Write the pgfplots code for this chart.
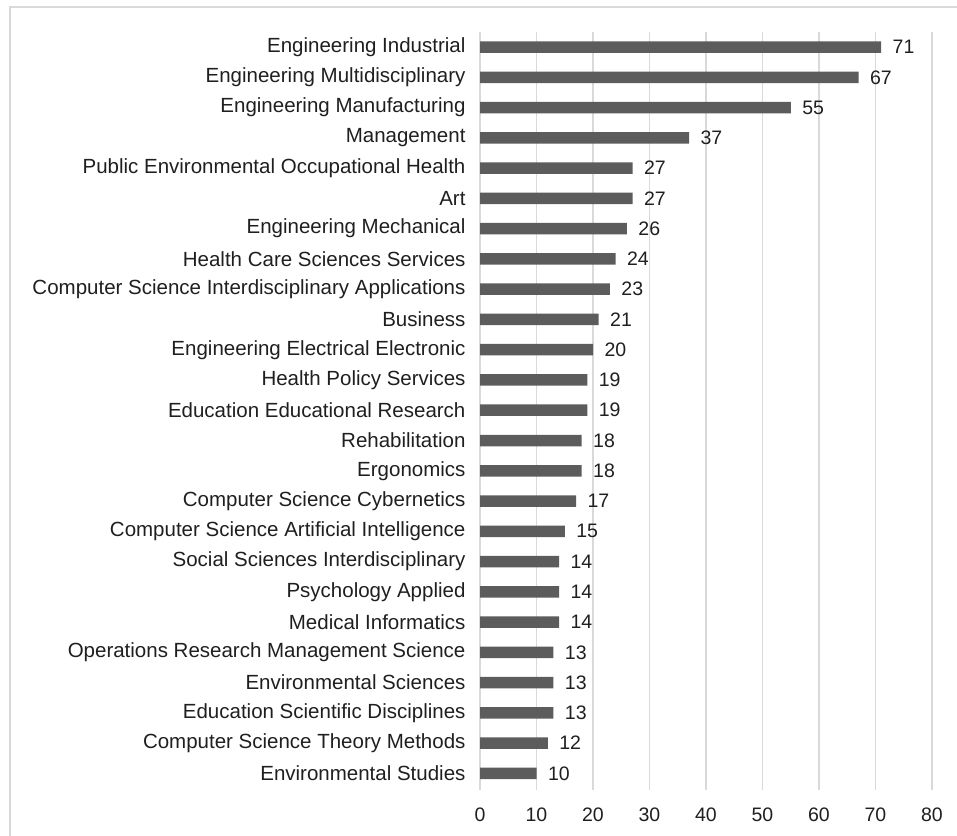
\documentclass[border=0pt]{standalone}
\usepackage{fontspec}
\setmainfont{Liberation Sans}
\usepackage{pgfplots}
\pgfplotsset{compat=1.18}
\definecolor{barc}{HTML}{5C5C5C}
\definecolor{gridc}{HTML}{D9D9D9}
\begin{document}
\begin{tikzpicture}
\begin{axis}[at={(480pt,45pt)}, anchor=south west, scale only axis,
  width=452pt, height=758pt,
  xbar, bar width=11.5pt,
  xmin=0, xmax=80, ymin=-0.55, ymax=24.5,
  xtick={0,10,...,80}, ytick={0,...,24},
  yticklabels={Environmental Studies, Computer Science Theory Methods, Education Scientific Disciplines, Environmental Sciences, Operations Research Management Science, Medical Informatics, Psychology Applied, Social Sciences Interdisciplinary, Computer Science Artificial Intelligence, Computer Science Cybernetics, Ergonomics, Rehabilitation, Education Educational Research, Health Policy Services, Engineering Electrical Electronic, Business, Computer Science Interdisciplinary Applications, Health Care Sciences Services, Engineering Mechanical, Art, Public Environmental Occupational Health, Management, Engineering Manufacturing, Engineering Multidisciplinary, Engineering Industrial},
  axis line style={draw=none}, major tick length=0pt,
  xmajorgrids, grid style={gridc, line width=1.2pt},
  yticklabel style={font=\fontsize{20.5}{24}\selectfont, text=black!88, xshift=-11pt},
  xticklabel style={font=\fontsize{19.5}{23}\selectfont, text=black!88, yshift=-14pt},
  nodes near coords,
  nodes near coords style={font=\fontsize{19.5}{23}\selectfont, text=black!88, anchor=west, xshift=8pt},
  /pgf/number format/assume math mode=true,
  clip=false]
\addplot[fill=barc, draw=none] coordinates {
(10,0) (12,1) (13,2) (13,3) (13,4) (14,5) (14,6) (14,7) (15,8) (17,9)
(18,10) (18,11) (19,12) (19,13) (20,14) (21,15) (23,16) (24,17) (26,18) (27,19)
(27,20) (37,21) (55,22) (67,23) (71,24)};
\end{axis}
\pgfresetboundingbox
\useasboundingbox (0pt,0pt) rectangle (957pt,835pt);
\draw[gridc, line width=1.2pt] (10pt,-5pt) -- (10pt,828pt) -- (962pt,828pt);
\end{tikzpicture}
\end{document}
